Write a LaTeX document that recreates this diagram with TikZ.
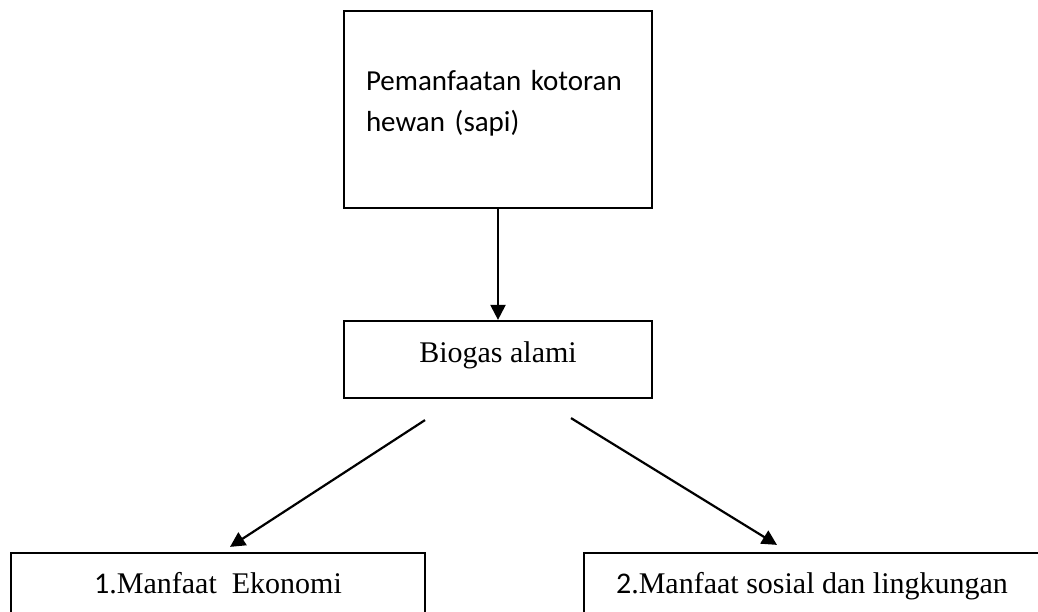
\documentclass[tikz,border=0pt]{standalone}
\usepackage{fontspec}
\setmainfont{Liberation Serif}
\newfontfamily\calibri{Carlito}
\usetikzlibrary{arrows.meta,calc}

\begin{document}
\begin{tikzpicture}[
  x=1pt, y=-1pt,
  >={Triangle[length=15pt,width=15pt]},
  box/.style={draw, line width=2.2pt, rectangle, inner ysep=0pt, align=center,
              font=\fontsize{30}{36}\selectfont},
  arr/.style={->, line width=2.2pt},
]
\useasboundingbox (0,0) rectangle (1038,612);
\clip (0,0) rectangle (1038,612);
\node[box, align=left, text width=264pt, inner xsep=22pt, text height=80pt, text depth=117pt,
      font=\calibri\fontsize{29}{41}\selectfont] (kotoran) at (498,109.5)
  {Pemanfaatan kotoran\\hewan (sapi)};
\node[box, minimum width=308pt, text height=41pt, text depth=36pt] (biogas) at (498,359.5) {Biogas alami};
\node[box, minimum width=414pt, text height=40pt, text depth=40pt] (ekonomi) at (218,593)
  {{\calibri 1}.Manfaat\ \ Ekonomi};
\node[box, minimum width=456pt, text height=40pt, text depth=40pt] (sosial) at (812,593)
  {{\calibri 2}.Manfaat sosial dan lingkungan};
\draw[arr] (kotoran) -- (biogas);
\draw[arr] ($(biogas.south)+(-73,21)$) -- ($(ekonomi.north)+(12,-5)$);
\draw[arr] ($(biogas.south)+(73,19)$) -- ($(sosial.north)+(-35,-7)$);
\end{tikzpicture}
\end{document}
